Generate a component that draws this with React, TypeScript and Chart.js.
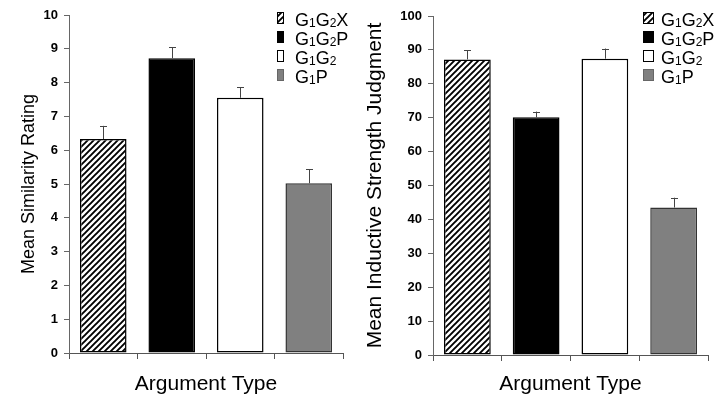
import React, { useEffect, useRef } from 'react';
import { Chart, registerables } from 'chart.js';

Chart.register(...registerables);

// ---------- data ----------
const categories = ['', '', '', ''];
const legendLabels = ['G1G2X', 'G1G2P', 'G1G2', 'G1P'];

const similarityMeans = [6.33, 8.72, 7.55, 5.02];
const similarityErrors = [0.39, 0.32, 0.31, 0.41];

const inductiveMeans = [87.2, 70.1, 87.4, 43.5];
const inductiveErrors = [2.7, 1.7, 3.0, 2.9];

const similarityTitle = 'Mean Similarity Rating';
const inductiveTitle = 'Mean Inductive Strength Judgment';
const xTitle = 'Argument Type';

const FONT = "'Liberation Sans', Arial, Helvetica, sans-serif";

function makeHatch(): CanvasPattern | string {
  const c = document.createElement('canvas');
  const s = 6;
  c.width = s;
  c.height = s;
  const g = c.getContext('2d');
  if (!g) return '#fff';
  g.fillStyle = '#fff';
  g.fillRect(0, 0, s, s);
  g.strokeStyle = '#000';
  g.lineWidth = 1.9;
  g.beginPath();
  g.moveTo(-1, s + 1);
  g.lineTo(s + 1, -1);
  g.moveTo(-1, 1);
  g.lineTo(1, -1);
  g.moveTo(s - 1, s + 1);
  g.lineTo(s + 1, s - 1);
  g.stroke();
  const p = g.createPattern(c, 'repeat');
  return p || '#fff';
}

function drawSubText(ctx: CanvasRenderingContext2D, text: string, x: number, y: number) {
  let cx = x;
  for (const ch of text) {
    const isDigit = /\d/.test(ch);
    ctx.font = isDigit ? `12px ${FONT}` : `18px ${FONT}`;
    ctx.fillText(ch, cx, isDigit ? y + 1 : y);
    cx += ctx.measureText(ch).width;
  }
}

interface PanelOpts {
  means: number[];
  errors: number[];
  max: number;
  step: number;
  yTitle: string;
  yTitleSize: number;
  yTitlePad: number;
  yWidth: number;
  xHeight: number;
  padTop: number;
  padRight: number;
  legendSwatchX: number;
  legendSwatchW: number;
  legendTextX: number;
}

function makeChart(canvas: HTMLCanvasElement, o: PanelOpts) {
  const hatch = makeHatch();
  const fills: any[] = [hatch, '#000000', '#ffffff', '#808080'];
  const borders = ['#000', '#000', '#000', '#333'];

  const errorPlugin = {
    id: 'errorBars',
    afterDatasetsDraw(chart: any) {
      const ctx = chart.ctx as CanvasRenderingContext2D;
      const meta = chart.getDatasetMeta(0);
      const ys = chart.scales.y;
      ctx.save();
      ctx.strokeStyle = '#444';
      ctx.lineWidth = 1;
      meta.data.forEach((bar: any, i: number) => {
        const top = ys.getPixelForValue(o.means[i] + o.errors[i]);
        const x = Math.round(bar.x) + 0.5;
        ctx.beginPath();
        ctx.moveTo(x, bar.y);
        ctx.lineTo(x, top);
        ctx.moveTo(x - 3.5, Math.round(top) + 0.5);
        ctx.lineTo(x + 3.5, Math.round(top) + 0.5);
        ctx.stroke();
      });
      ctx.restore();
    },
  };

  const legendPlugin = {
    id: 'customLegend',
    afterDraw(chart: any) {
      const ctx = chart.ctx as CanvasRenderingContext2D;
      ctx.save();
      legendLabels.forEach((label, i) => {
        const base = 26 + i * 19;
        const sy = base - 14;
        ctx.fillStyle = fills[i];
        ctx.fillRect(o.legendSwatchX, sy, o.legendSwatchW, 12);
        ctx.strokeStyle = i === 3 ? '#666' : '#000';
        ctx.lineWidth = 1;
        ctx.strokeRect(o.legendSwatchX + 0.5, sy + 0.5, o.legendSwatchW - 1, 11);
        ctx.fillStyle = '#000';
        ctx.textBaseline = 'alphabetic';
        ctx.textAlign = 'left';
        drawSubText(ctx, label, o.legendTextX, base);
      });
      ctx.restore();
    },
  };

  return new Chart(canvas, {
    type: 'bar',
    data: {
      labels: categories,
      datasets: [
        {
          data: o.means,
          backgroundColor: fills,
          borderColor: borders,
          borderWidth: 1.5,
          borderSkipped: false,
          barPercentage: 0.68,
          categoryPercentage: 1,
        },
      ],
    },
    options: {
      responsive: false,
      animation: false,
      devicePixelRatio: 1,
      layout: { padding: { top: o.padTop, right: o.padRight, left: 0, bottom: 0 } },
      plugins: {
        legend: { display: false },
        tooltip: { enabled: false },
      },
      scales: {
        x: {
          grid: {
            offset: true,
            drawOnChartArea: false,
            drawTicks: true,
            tickLength: 6,
            color: '#555',
          },
          border: { display: true, color: '#555', width: 1 },
          ticks: { display: true, font: { family: FONT, size: 1 } },
          title: {
            display: true,
            text: xTitle,
            color: '#000',
            font: { family: FONT, size: 21 },
            padding: { top: 0, bottom: 3 },
          },
          afterFit: (s: any) => {
            s.height = o.xHeight;
          },
        },
        y: {
          min: 0,
          max: o.max,
          ticks: {
            stepSize: o.step,
            color: '#000',
            font: { family: FONT, size: 13, weight: 'bold' },
            padding: 6,
          },
          grid: { drawOnChartArea: false, drawTicks: true, tickLength: 5, color: '#666' },
          border: { display: true, color: '#666', width: 1 },
          title: {
            display: true,
            text: o.yTitle,
            color: '#000',
            font: { family: FONT, size: o.yTitleSize },
            padding: { top: o.yTitlePad, bottom: 0 },
          },
          afterFit: (s: any) => {
            s.width = o.yWidth;
          },
        },
      },
    } as any,
    plugins: [errorPlugin, legendPlugin],
  });
}

export default function App() {
  const leftRef = useRef<HTMLCanvasElement>(null);
  const rightRef = useRef<HTMLCanvasElement>(null);

  useEffect(() => {
    if (!leftRef.current || !rightRef.current) return;
    const left = makeChart(leftRef.current, {
      means: similarityMeans,
      errors: similarityErrors,
      max: 10,
      step: 1,
      yTitle: similarityTitle,
      yTitleSize: 18,
      yTitlePad: 18,
      yWidth: 69,
      xHeight: 47,
      padTop: 15,
      padRight: 16,
      legendSwatchX: 277,
      legendSwatchW: 7,
      legendTextX: 295,
    });
    const right = makeChart(rightRef.current, {
      means: inductiveMeans,
      errors: inductiveErrors,
      max: 100,
      step: 10,
      yTitle: inductiveTitle,
      yTitleSize: 21,
      yTitlePad: 4,
      yWidth: 74,
      xHeight: 45,
      padTop: 16,
      padRight: 10,
      legendSwatchX: 643 - 359,
      legendSwatchW: 11,
      legendTextX: 661 - 359,
    });
    return () => {
      left.destroy();
      right.destroy();
    };
  }, []);

  return (
    <div style={{ position: 'absolute', left: 0, top: 0, width: 718, height: 400, background: '#fff' }}>
      <canvas ref={leftRef} width={359} height={400} style={{ position: 'absolute', left: 0, top: 0 }} />
      <canvas ref={rightRef} width={359} height={400} style={{ position: 'absolute', left: 359, top: 0 }} />
    </div>
  );
}
